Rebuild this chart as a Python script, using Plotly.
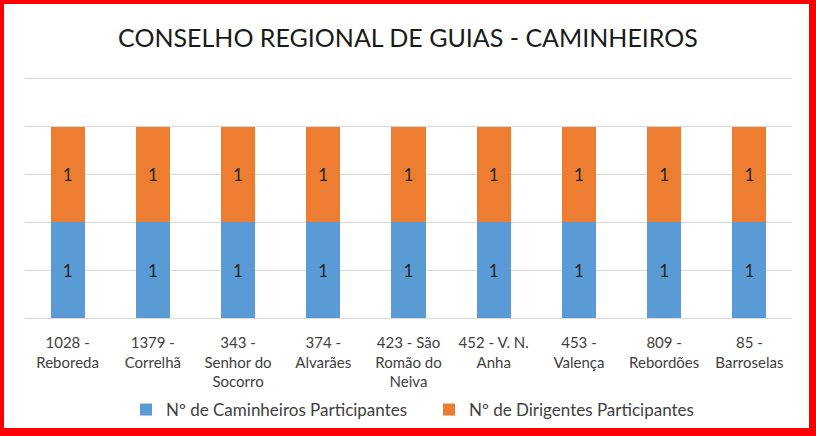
import plotly.graph_objects as go

categories = ["1028 - Reboreda", "1379 - Correlhã", "343 - Senhor do Socorro", "374 - Alvarães",
              "423 - São Romão do Neiva", "452 - V. N. Anha", "453 - Valença", "809 - Rebordões",
              "85 - Barroselas"]
tick_labels = ["1028 -<br>Reboreda", "1379 -<br>Correlhã", "343 -<br>Senhor do<br>Socorro",
               "374 -<br>Alvarães", "423 - São<br>Romão do<br>Neiva", "452 - V. N.<br>Anha",
               "453 -<br>Valença", "809 -<br>Rebordões", "85 -<br>Barroselas"]
caminheiros = [1, 1, 1, 1, 1, 1, 1, 1, 1]
dirigentes = [1, 1, 1, 1, 1, 1, 1, 1, 1]
series_names = ["Nº de Caminheiros Participantes", "Nº de Dirigentes Participantes"]
title_text = "CONSELHO REGIONAL DE GUIAS - CAMINHEIROS"

FONT = "Lato"
W, H = 816, 436
L, R, T, B = 25, 24, 76, 118
PW, PH = W - L - R, H - T - B

def px_x(px):
    return (px - L) / PW

def px_y(py):
    return (H - B - py) / PH

fig = go.Figure()
for name, vals, col in [(series_names[0], caminheiros, "#5B9BD5"),
                        (series_names[1], dirigentes, "#ED7D31")]:
    fig.add_trace(go.Bar(
        x=categories, y=vals, name=name, marker=dict(color=col, line=dict(width=0)),
        text=[str(v) for v in vals], textposition="inside", insidetextanchor="middle",
        textangle=0, constraintext="none", hoverinfo="skip",
        textfont=dict(family=FONT, size=17, color="#262626"),
    ))

shapes = []
red = "#FF0000"
for x0, x1, y0, y1 in [(0, 4, 0, H), (809, W, 0, H), (0, W, 0, 4), (0, W, 428, H)]:
    shapes.append(dict(type="rect", xref="paper", yref="paper",
                       x0=px_x(x0), x1=px_x(x1), y0=px_y(y1), y1=px_y(y0),
                       fillcolor=red, line=dict(width=0), layer="above"))

fig.update_layout(
    width=W, height=H, barmode="stack", bargap=0.6,
    margin=dict(l=L, r=R, t=T, b=B, pad=0, autoexpand=False),
    paper_bgcolor="white", plot_bgcolor="white",
    font=dict(family=FONT, size=15, color="#404040"),
    title=dict(text=title_text, x=0.5, xanchor="center", y=1 - 38 / H, yanchor="middle",
               font=dict(family=FONT, size=25, color="#1a1a1a")),
    showlegend=True,
    legend=dict(orientation="h", x=px_x(126), xanchor="left", y=px_y(410), yanchor="middle",
                font=dict(family=FONT, size=17, color="#404040"), traceorder="normal",
                bgcolor="rgba(0,0,0,0)", itemwidth=30, entrywidth=258,
                entrywidthmode="pixels"),
    shapes=shapes,
)
fig.update_xaxes(tickvals=categories, ticktext=tick_labels, showgrid=False, showline=False,
                 ticks="outside", ticklen=11, tickcolor="rgba(0,0,0,0)", fixedrange=True,
                 tickfont=dict(family=FONT, size=15, color="#404040"))
fig.update_yaxes(range=[0, 2.53], tickvals=[0, 0.5, 1, 1.5, 2, 2.5], showgrid=True,
                 gridcolor="#D9D9D9", gridwidth=1,
                 zeroline=True, zerolinecolor="#D9D9D9", zerolinewidth=1, fixedrange=True,
                 showticklabels=False, showline=False, ticks="")

fig.write_html("out.html", config={"displayModeBar": False},
               post_script="document.body.style.margin='0';document.body.style.overflow='hidden';")
